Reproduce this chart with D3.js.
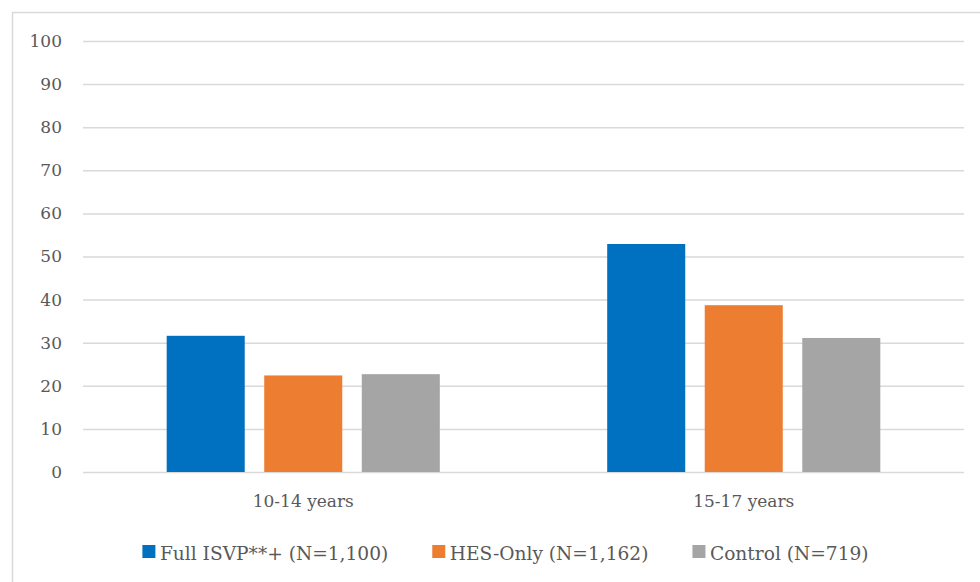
<!DOCTYPE html>
<html>
<head>
<meta charset="utf-8">
<script src="https://cdnjs.cloudflare.com/ajax/libs/d3/7.8.5/d3.min.js"></script>
<style>
	body { margin: 0; background: #fff; }
</style>
</head>
<body>
<svg id="chart" width="980" height="582"></svg>
<script>
var categories = ["10-14 years", "15-17 years"];
var seriesNames = ["Full ISVP**+ (N=1,100)", "HES-Only (N=1,162)", "Control (N=719)"];
var seriesColors = ["#0070c0", "#ed7d31", "#a5a5a5"];
var fullValues = [31.6, 52.9];
var hesValues = [22.4, 38.7];
var controlValues = [22.7, 31.1];
var yTicks = [0, 10, 20, 30, 40, 50, 60, 70, 80, 90, 100];

;(function(d3) {
	"use strict";

	var FONT = "'DejaVu Serif', serif";
	var svg = d3.select("#chart");
	var bounds = { left: 83, right: 964, top: 41, bottom: 472 };
	var seriesValues = [fullValues, hesValues, controlValues];

	// chart frame, runs off the right and bottom edge like the original
	svg.append("rect")
		.attr("x", 12.5).attr("y", 12.5)
		.attr("width", 990).attr("height", 600)
		.style("fill", "none").style("stroke", "#d9d9d9").style("stroke-width", 1.5);

	var y = d3.scaleLinear().domain([0, 100]).range([bounds.bottom, bounds.top]);

	var x0 = d3.scaleBand().domain(categories)
		.range([bounds.left, bounds.right])
		.paddingInner(0.38).paddingOuter(0.19);

	var x1 = d3.scaleBand().domain(d3.range(seriesNames.length))
		.range([0, x0.bandwidth()])
		.paddingInner(0.2);

	// gridlines + tick labels
	var yAxis = d3.axisLeft(y).tickValues(yTicks)
		.tickSize(-(bounds.right - bounds.left)).tickPadding(21);

	var gy = svg.append("g")
		.attr("transform", "translate(" + bounds.left + ",0)")
		.call(yAxis)
		.attr("font-family", FONT).attr("font-size", 17);
	gy.select(".domain").remove();
	gy.selectAll(".tick line").style("stroke", "#d9d9d9").style("stroke-width", 1.5);
	gy.selectAll(".tick text").attr("fill", "#595959");

	var groups = svg.selectAll(".group").data(categories)
		.enter().append("g")
		.attr("class", "group")
		.attr("transform", function(d) { return "translate(" + x0(d) + ",0)"; });

	groups.selectAll("rect")
		.data(function(d, i) {
			return seriesValues.map(function(vals, s) { return { s: s, v: vals[i] }; });
		})
		.enter().append("rect")
		.attr("x", function(d) { return x1(d.s); })
		.attr("width", x1.bandwidth())
		.attr("y", function(d) { return y(d.v); })
		.attr("height", function(d) { return y(0) - y(d.v); })
		.style("fill", function(d) { return seriesColors[d.s]; });

	// category labels
	var xAxis = d3.axisBottom(x0).tickSize(0).tickPadding(22.5);
	var gx = svg.append("g")
		.attr("transform", "translate(0," + bounds.bottom + ")")
		.call(xAxis)
		.attr("font-family", FONT).attr("font-size", 17);
	gx.select(".domain").remove();
	gx.selectAll(".tick text").attr("fill", "#595959");

	// legend, laid out left to right, sits a bit left of the plot centre
	var legend = svg.append("g").attr("class", "legend")
		.attr("font-family", FONT).attr("font-size", 18.6);
	var items = legend.selectAll(".item").data(seriesNames)
		.enter().append("g").attr("class", "item");

	items.append("rect")
		.attr("width", 13).attr("height", 13)
		.attr("y", -15)
		.style("fill", function(d, i) { return seriesColors[i]; });

	items.append("text")
		.attr("x", 17.5)
		.attr("fill", "#595959")
		.text(function(d) { return d; });

	var gap = 44, offsetX = 0;
	items.each(function() {
		var w = this.getBBox().width;
		d3.select(this).attr("transform", "translate(" + offsetX + ",0)");
		offsetX += w + gap;
	});
	var legendWidth = offsetX - gap;
	legend.attr("transform", "translate(" + ((bounds.left + bounds.right) / 2 - 18 - legendWidth / 2) + ",560)");
})(d3);
</script>
</body>
</html>
